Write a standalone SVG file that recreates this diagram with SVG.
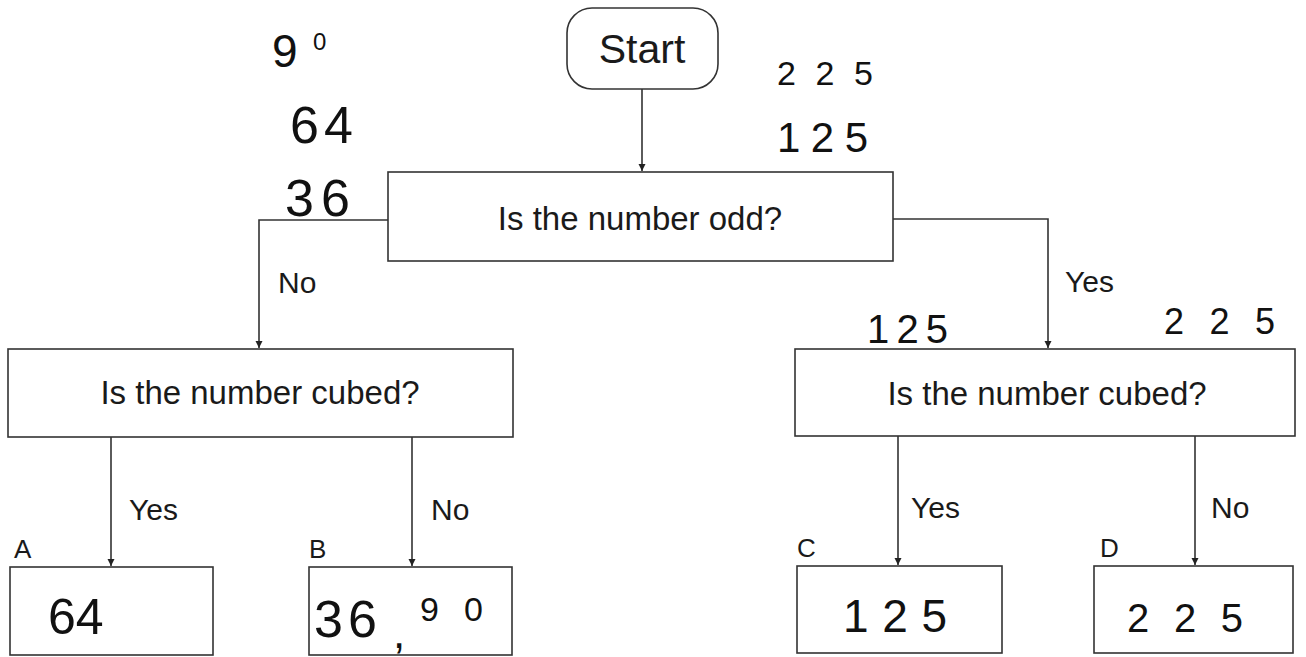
<svg xmlns="http://www.w3.org/2000/svg" width="1306" height="657" viewBox="0 0 1306 657">
<style>
.box{fill:#fff;stroke:#333;stroke-width:1.6}
.lbl{font-family:"Liberation Sans",Arial,sans-serif;fill:#1a1a1a}
.q{font-size:33px;text-anchor:middle}
.yn{font-size:30px}
.let{font-size:26px}
.hw{font-family:"Liberation Sans","DejaVu Sans",sans-serif;fill:#111;font-weight:normal}
.conn{fill:none;stroke:#333;stroke-width:1.6}
</style>
<defs>
<marker id="arr" viewBox="0 0 10 10" refX="10" refY="5" markerWidth="7" markerHeight="9" markerUnits="userSpaceOnUse" orient="auto">
<path d="M0,0 L10,5 L0,10 z" fill="#222"/>
</marker>
</defs>
<rect width="1306" height="657" fill="#fff"/>

<g id="connectors">
<path class="conn" d="M642,89 V171" marker-end="url(#arr)"/>
<path class="conn" d="M388,220 H259 V348" marker-end="url(#arr)"/>
<path class="conn" d="M893,219 H1048 V348" marker-end="url(#arr)"/>
<path class="conn" d="M111,437 V566" marker-end="url(#arr)"/>
<path class="conn" d="M412,437 V566" marker-end="url(#arr)"/>
<path class="conn" d="M898,436 V565" marker-end="url(#arr)"/>
<path class="conn" d="M1195,436 V565" marker-end="url(#arr)"/>
<text class="lbl yn" x="278" y="293">No</text>
<text class="lbl yn" x="1065" y="292">Yes</text>
<text class="lbl yn" x="129" y="520">Yes</text>
<text class="lbl yn" x="431" y="520">No</text>
<text class="lbl yn" x="911" y="518">Yes</text>
<text class="lbl yn" x="1211" y="518">No</text>
</g>

<g id="start">
<rect class="box" x="567" y="8" width="151" height="81" rx="25" ry="25"/>
<text class="lbl" x="642" y="63" font-size="41" text-anchor="middle">Start</text>
</g>

<g id="q-odd">
<rect class="box" x="388" y="172" width="505" height="89"/>
<text class="lbl q" x="640" y="230">Is the number odd?</text>
</g>

<g id="q-cubed-left">
<rect class="box" x="8" y="349" width="505" height="88"/>
<text class="lbl q" x="260" y="404">Is the number cubed?</text>
</g>

<g id="q-cubed-right">
<rect class="box" x="795" y="349" width="500" height="87"/>
<text class="lbl q" x="1047" y="405">Is the number cubed?</text>
</g>

<g id="box-a">
<text class="lbl let" x="14" y="558">A</text>
<rect class="box" x="10" y="567" width="203" height="88"/>
<text class="hw" x="48" y="634" font-size="50">64</text>
</g>

<g id="box-b">
<text class="lbl let" x="309" y="558">B</text>
<rect class="box" x="309" y="567" width="203" height="88"/>
<text class="hw"><tspan x="314" y="637" font-size="52" textLength="63" lengthAdjust="spacing">36</tspan><tspan x="393" y="648" font-size="44">, </tspan><tspan x="420" y="621" font-size="34" textLength="63" lengthAdjust="spacing">90</tspan></text>
</g>

<g id="box-c">
<text class="lbl let" x="797" y="557">C</text>
<rect class="box" x="797" y="566" width="205" height="87"/>
<text class="hw" x="843" y="632" font-size="46" textLength="104" lengthAdjust="spacing">125</text>
</g>

<g id="box-d">
<text class="lbl let" x="1100" y="557">D</text>
<rect class="box" x="1094" y="566" width="199" height="87"/>
<text class="hw" x="1127" y="632" font-size="40" textLength="116" lengthAdjust="spacing">225</text>
</g>

<g id="notes">
<text class="hw"><tspan x="272" y="67" font-size="46">9</tspan><tspan x="313" y="50" font-size="24">0</tspan></text>
<text class="hw" x="290" y="143" font-size="52" textLength="63" lengthAdjust="spacing">64</text>
<text class="hw" x="285" y="216" font-size="52" textLength="65" lengthAdjust="spacing">36</text>
<text class="hw" x="777" y="85" font-size="34" textLength="96" lengthAdjust="spacing">225</text>
<text class="hw" x="777" y="152" font-size="42" textLength="91" lengthAdjust="spacing">125</text>
<text class="hw" x="867" y="343" font-size="40" textLength="81" lengthAdjust="spacing">125</text>
<text class="hw" x="1164" y="334" font-size="36" textLength="111" lengthAdjust="spacing">225</text>
</g>
</svg>
